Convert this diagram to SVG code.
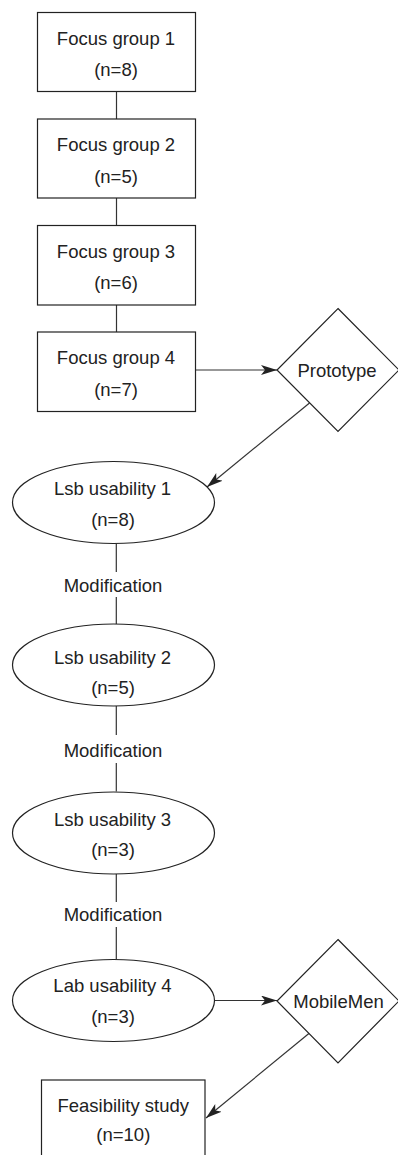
<svg xmlns="http://www.w3.org/2000/svg" width="398" height="1155" viewBox="0 0 398 1155">
<style>
.n{fill:#fff;stroke:#222;stroke-width:1.2}
.t{font-family:"Liberation Sans",Arial,sans-serif;font-size:18.5px;fill:#222;text-anchor:middle}
.c{fill:none;stroke:#333;stroke-width:1.2}
</style>
<defs>
<marker id="arr" markerUnits="userSpaceOnUse" markerWidth="18" markerHeight="12" refX="16" refY="5" orient="auto">
<path d="M0,0 L16,5 L0,10 L4,5 Z" fill="#222"/>
</marker>
</defs>
<g id="connectors">
<line class="c" x1="116.5" y1="91.5" x2="116.5" y2="119"/>
<line class="c" x1="116.5" y1="198" x2="116.5" y2="225.5"/>
<line class="c" x1="116.5" y1="305" x2="116.5" y2="332"/>
<line class="c" x1="195.5" y1="370" x2="277" y2="370" marker-end="url(#arr)"/>
<line class="c" x1="309.5" y1="403" x2="207" y2="487" marker-end="url(#arr)"/>
<line class="c" x1="116.3" y1="543.5" x2="116.3" y2="572"/>
<line class="c" x1="116.3" y1="597" x2="116.3" y2="624"/>
<line class="c" x1="116.3" y1="706" x2="116.3" y2="735"/>
<line class="c" x1="116.3" y1="763" x2="116.3" y2="791.5"/>
<line class="c" x1="116.3" y1="874" x2="116.3" y2="902"/>
<line class="c" x1="116.3" y1="927" x2="116.3" y2="959"/>
<line class="c" x1="214.5" y1="1000.5" x2="277" y2="1000.5" marker-end="url(#arr)"/>
<line class="c" x1="309.5" y1="1033" x2="206" y2="1118" marker-end="url(#arr)"/>
</g>
<g id="fg1"><rect class="n" x="37.5" y="12.5" width="158" height="79"/><text class="t" x="116" y="44.5">Focus group 1</text><text class="t" x="116" y="76">(n=8)</text></g>
<g id="fg2"><rect class="n" x="37.5" y="119" width="158" height="79"/><text class="t" x="116" y="151">Focus group 2</text><text class="t" x="116" y="182.5">(n=5)</text></g>
<g id="fg3"><rect class="n" x="37.5" y="225.5" width="158" height="79.5"/><text class="t" x="116" y="258">Focus group 3</text><text class="t" x="116" y="289">(n=6)</text></g>
<g id="fg4"><rect class="n" x="37.5" y="332" width="158" height="79.5"/><text class="t" x="116" y="364">Focus group 4</text><text class="t" x="116" y="395.5">(n=7)</text></g>
<g id="prototype"><polygon class="n" points="338,308.5 399,370 338,431.5 277,370"/><text class="t" x="337" y="377">Prototype</text></g>
<g id="lsb1"><ellipse class="n" cx="113.5" cy="502.5" rx="101" ry="41"/><text class="t" x="112.5" y="495">Lsb usability 1</text><text class="t" x="113" y="526">(n=8)</text></g>
<text class="t" x="113" y="591.5">Modification</text>
<g id="lsb2"><ellipse class="n" cx="113.5" cy="665" rx="101" ry="41"/><text class="t" x="112.5" y="664">Lsb usability 2</text><text class="t" x="113" y="694">(n=5)</text></g>
<text class="t" x="113" y="756.5">Modification</text>
<g id="lsb3"><ellipse class="n" cx="113.5" cy="833" rx="101" ry="41"/><text class="t" x="112.5" y="826">Lsb usability 3</text><text class="t" x="113" y="856">(n=3)</text></g>
<text class="t" x="113" y="921">Modification</text>
<g id="lab4"><ellipse class="n" cx="113.5" cy="1000.5" rx="101" ry="41"/><text class="t" x="112.5" y="991.5">Lab usability 4</text><text class="t" x="113" y="1022.5">(n=3)</text></g>
<g id="mobilemen"><polygon class="n" points="338,939.5 399,1001 338,1063 277,1001"/><text class="t" x="338.5" y="1008">MobileMen</text></g>
<g id="feasibility"><rect class="n" x="41.5" y="1080" width="163.5" height="85"/><text class="t" x="123.3" y="1111.5">Feasibility study</text><text class="t" x="123.3" y="1140.5">(n=10)</text></g>
</svg>
